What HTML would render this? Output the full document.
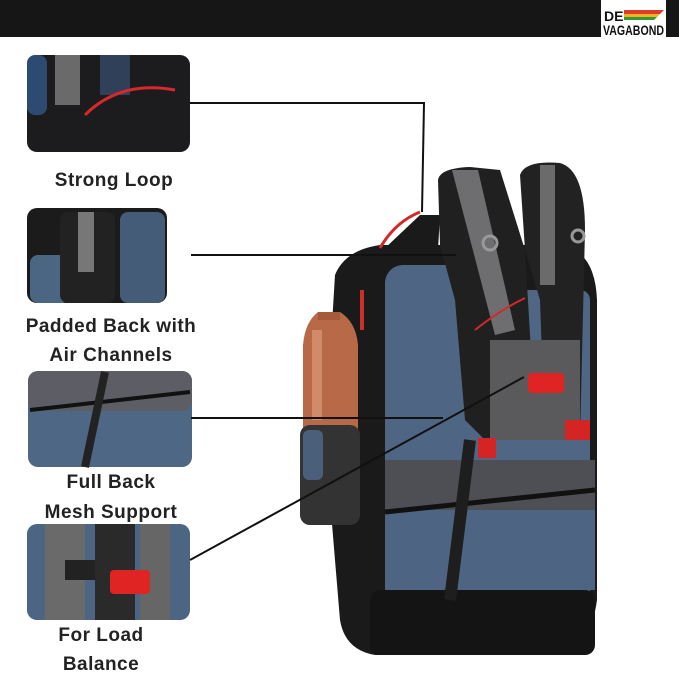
<!DOCTYPE html>
<html><head><style>
body{margin:0;width:679px;height:679px;background:#fff;overflow:hidden;position:relative;font-family:"Liberation Sans",sans-serif}
.lab{position:absolute;font-weight:bold;font-size:19px;color:#222;text-align:center;width:220px;letter-spacing:0.5px}
</style></head><body>
<svg width="679" height="679" style="position:absolute;left:0;top:0">
<rect x="0" y="0" width="679" height="37" fill="#161616"/>
<rect x="601" y="0" width="65" height="37" fill="#fff"/>
<rect x="667" y="0" width="12" height="37" fill="#161616"/>
<text x="604" y="21" font-family="Liberation Sans" font-weight="bold" font-size="14" fill="#111">DE</text>
<polygon points="624,10 664,10 660,14 624,14" fill="#e03a2a"/>
<polygon points="624,14 660,14 657,17 624,17" fill="#f2b21b"/>
<polygon points="624,17 657,17 654,20 624,20" fill="#2e9a3a"/>
<text x="603" y="35" font-family="Liberation Sans" font-weight="bold" font-size="14" fill="#111" textLength="61" lengthAdjust="spacingAndGlyphs">VAGABOND</text>
<!-- thumbnails -->
<rect x="27" y="55" width="163" height="97" rx="10" fill="#1c1c1e"/>
<rect x="27" y="55" width="20" height="60" rx="8" fill="#2d4a70"/>
<rect x="55" y="55" width="25" height="50" fill="#6a6a6a"/>
<rect x="100" y="55" width="30" height="40" fill="#2f4058"/>
<path d="M85,115 Q120,80 175,90" stroke="#d8282a" stroke-width="3" fill="none"/>
<rect x="27" y="208" width="140" height="95" rx="10" fill="#1b1b1b"/>
<rect x="30" y="255" width="40" height="48" rx="8" fill="#4b6683"/>
<rect x="60" y="212" width="55" height="91" rx="8" fill="#222"/>
<rect x="78" y="212" width="16" height="60" fill="#777"/>
<rect x="120" y="212" width="45" height="91" rx="8" fill="#455c78"/>
<rect x="28" y="371" width="164" height="96" rx="10" fill="#4e6785"/>
<rect x="28" y="371" width="164" height="40" rx="10" fill="#5d5d66"/>
<line x1="30" y1="410" x2="190" y2="392" stroke="#111" stroke-width="4"/>
<line x1="105" y1="372" x2="85" y2="467" stroke="#222" stroke-width="8"/>
<rect x="27" y="524" width="163" height="96" rx="10" fill="#4c6582"/>
<rect x="45" y="524" width="40" height="96" fill="#6a6a6a"/>
<rect x="95" y="524" width="40" height="96" fill="#2a2a2a"/>
<rect x="140" y="524" width="30" height="96" fill="#666"/>
<rect x="110" y="570" width="40" height="24" rx="4" fill="#e02424"/>
<rect x="65" y="560" width="30" height="20" fill="#222"/>
<!-- backpack -->
<path d="M335,275 Q345,250 380,245 L560,245 Q595,250 597,300 L597,600 Q590,650 560,655 L375,655 Q345,650 340,620 L325,440 Z" fill="#1a1a1b"/>
<path d="M383,250 L420,215 L440,215 L438,250 Z" fill="#1a1a1a"/>
<path d="M380,248 Q395,222 420,212" stroke="#d02a2a" stroke-width="3" fill="none"/>
<rect x="385" y="265" width="90" height="340" rx="18" fill="#4e6683"/>
<rect x="470" y="290" width="120" height="310" rx="10" fill="#4f6784"/>
<rect x="385" y="460" width="210" height="55" fill="#4e4e55"/>
<rect x="385" y="510" width="210" height="80" fill="#4d6582"/>
<line x1="385" y1="512" x2="595" y2="490" stroke="#111" stroke-width="5"/>
<rect x="370" y="590" width="225" height="65" rx="10" fill="#141414"/>
<path d="M438,180 Q440,168 470,167 L500,170 L525,250 L535,420 L485,440 L465,420 L455,300 L440,245 Z" fill="#202020"/>
<path d="M452,170 L478,170 L515,330 L495,335 Z" fill="#6e6e70"/>
<path d="M520,175 Q525,160 560,163 Q585,170 585,230 L580,440 L545,440 L540,300 L525,250 Z" fill="#222"/>
<rect x="540" y="165" width="15" height="120" fill="#6b6b6b"/>
<rect x="490" y="340" width="90" height="100" fill="#5a5a5c"/>
<circle cx="490" cy="243" r="7" fill="none" stroke="#999" stroke-width="3"/>
<circle cx="578" cy="236" r="6" fill="none" stroke="#999" stroke-width="3"/>
<path d="M475,330 Q500,310 525,298" stroke="#d02a2a" stroke-width="2" fill="none"/>
<rect x="528" y="373" width="36" height="20" rx="4" fill="#e02424"/>
<rect x="478" y="438" width="18" height="20" fill="#d52424"/>
<rect x="565" y="420" width="25" height="20" fill="#d52424"/>
<line x1="470" y1="440" x2="450" y2="600" stroke="#1e1e1e" stroke-width="12"/>
<line x1="362" y1="290" x2="362" y2="330" stroke="#c8302a" stroke-width="4"/>
<path d="M318,312 L340,312 Q356,322 358,345 L358,430 L303,430 L303,345 Q305,322 318,312 Z" fill="#b86a48"/>
<rect x="312" y="330" width="10" height="90" fill="#e3a282" opacity="0.6"/>
<rect x="318" y="312" width="22" height="8" fill="#a55a3c"/>
<rect x="300" y="425" width="60" height="100" rx="10" fill="#333"/>
<rect x="303" y="430" width="20" height="50" rx="6" fill="#4a607a"/>
<!-- connector lines -->
<polyline points="190,103 424,103 422,212" stroke="#111" stroke-width="2" fill="none"/>
<line x1="191" y1="255" x2="456" y2="255" stroke="#111" stroke-width="2"/>
<line x1="191" y1="418" x2="443" y2="418" stroke="#111" stroke-width="2"/>
<line x1="190" y1="560" x2="524" y2="377" stroke="#111" stroke-width="2"/>
</svg>
<div class="lab" style="left:4px;top:170px">Strong Loop</div>
<div class="lab" style="left:0px;top:316px;width:222px">Padded Back with</div>
<div class="lab" style="left:0px;top:345px;width:222px">Air Channels</div>
<div class="lab" style="left:1px;top:472px">Full Back</div>
<div class="lab" style="left:1px;top:502px">Mesh Support</div>
<div class="lab" style="left:-9px;top:625px">For Load</div>
<div class="lab" style="left:-9px;top:654px">Balance</div>
</body></html>
